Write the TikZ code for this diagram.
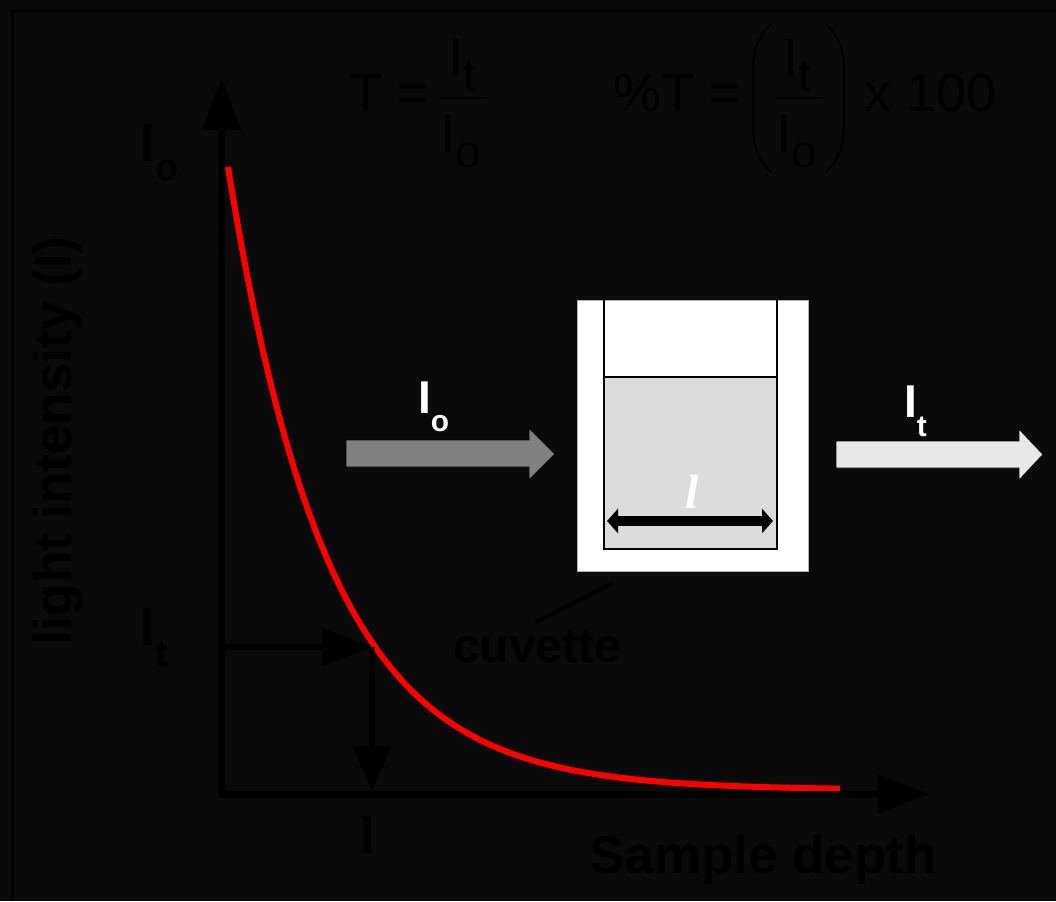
\documentclass[tikz,border=0pt]{standalone}
\usepackage{fontspec}
\setmainfont{Liberation Sans}
\newfontfamily\serifface{Liberation Serif}
\usetikzlibrary{arrows.meta}
\definecolor{bgdark}{RGB}{10,10,10}
\definecolor{beamin}{RGB}{128,128,128}
\definecolor{beamout}{RGB}{232,232,232}
\definecolor{fluid}{RGB}{220,220,220}
\newcommand{\Isub}[3]{I\raisebox{-#2}{\scalebox{#1}{#3}}}

\begin{document}
\begin{tikzpicture}[x=1pt, y=-1pt,
    txt/.style={inner sep=0pt, text=black, anchor=base west},
    big/.style={txt, font=\fontsize{54}{60}\selectfont},
    heavy/.style={txt, font=\bfseries\fontsize{#1}{#1}\selectfont},
    heavy/.default=54,
    axis/.style={line width=7pt, line join=miter},
    beam/.style={draw=black, line width=.8pt},
  ]
  \useasboundingbox (0,0) rectangle (1056,901);
  \fill[bgdark] (0,0) rectangle (1056,901);
  \draw[line width=3pt] (12,901) -- (12,11) -- (1056,11);  % frame, left and top only

  % transmittance formulas
  \node[big] (teq) at (349,112) {T =};
  \node[big, anchor=base] (tnum) at (462,77) {\Isub{.85}{.27em}{t}};
  \node[big, anchor=base] (tden) at (461,153) {\Isub{.85}{.27em}{o}};
  \draw[line width=2pt] (440,98) -- (487,98);

  \node[big] (pteq) at (613,112) {\%T =};
  \draw[line width=2pt] (771,24) to[out=225, in=90] (753,72) -- (753,124)
    to[out=270, in=135] (771,172);
  \draw[line width=2pt] (826,24) to[out=-45, in=90] (844,72) -- (844,124)
    to[out=270, in=45] (826,172);
  \node[big, anchor=base] (pnum) at (797,77) {\Isub{.85}{.27em}{t}};
  \node[big, anchor=base] (pden) at (797,153) {\Isub{.85}{.27em}{o}};
  \draw[line width=2pt] (776,98) -- (823,98);
  \node[big] (times) at (864,112) {x 100};

  % decay curve and axes
  \draw[red, line width=6pt] plot[domain=228:840, samples=120]
    (\x, {790-623*exp(-(\x-228)/100)});
  \coordinate (origin) at (221.5,794);
  \coordinate (ytop) at (221.5,78);
  \coordinate (xend) at (930,794);
  \draw[axis, {Triangle[length=52pt,width=37pt]}-{Triangle[length=52pt,width=37pt]}]
    (ytop) -- (origin) -- (xend);

  \coordinate (itfoot) at (221.5,647);
  \coordinate (hit) at (372,647);
  \coordinate (lfoot) at (372,792);
  \draw[line width=6pt, -{Triangle[length=50pt,width=37pt]}] (itfoot) -- (hit);
  \draw[line width=6pt, -{Triangle[length=46pt,width=37pt]}] (hit) -- (lfoot);

  \node[heavy] (io) at (140,162) {\Isub{.7}{.35em}{o}};
  \node[heavy] (it) at (140,645) {\Isub{.7}{.4em}{t}};
  \node[txt, anchor=base, font=\serifface\bfseries\fontsize{53}{53}\selectfont]
    (depthl) at (368,853) {l};
  \node[heavy=53] (xlab) at (589,873) {Sample depth};
  \node[heavy=53, rotate=90] (ylab) at (71,646) {light intensity (I)};

  % light beams
  \filldraw[fill=beamin, beam] (346,440) -- (529,440) -- (529,428) -- (555,454)
    -- (529,480) -- (529,467) -- (346,467) -- cycle;
  \filldraw[fill=beamout, beam] (836,441) -- (1019,441) -- (1019,429) -- (1043,454.5)
    -- (1019,480) -- (1019,468) -- (836,468) -- cycle;
  \node[heavy=46, text=white] (beamio) at (418,413) {\Isub{.65}{.41em}{o}};
  \node[heavy=46, text=white] (beamit) at (904,417) {\Isub{.65}{.43em}{t}};

  % cuvette
  \filldraw[fill=white, draw=gray!60, line width=.8pt] (577,300) rectangle (808,571);
  \fill[fluid] (604,377) rectangle (777,549);
  \draw[line width=1.5pt] (604,300) -- (604,549) -- (777,549) -- (777,300);
  \draw[line width=1.5pt] (604,377) -- (777,377);  % liquid level
  \coordinate (pathL) at (607,521);
  \coordinate (pathR) at (773,521);
  \draw[line width=10pt, {Triangle[length=11pt,width=24pt]}-{Triangle[length=11pt,width=24pt]}]
    (pathL) -- (pathR);
  \node[txt, anchor=base, text=white, font=\serifface\bfseries\itshape\fontsize{48}{48}\selectfont]
    (pathlbl) at (692,508) {l};

  \node[heavy=48] (cuvlbl) at (453,662) {cuvette};
  \coordinate (leadA) at (536,622);
  \coordinate (leadB) at (613,583);
  \draw[line width=4pt] (leadA) -- (leadB);
\end{tikzpicture}
\end{document}
